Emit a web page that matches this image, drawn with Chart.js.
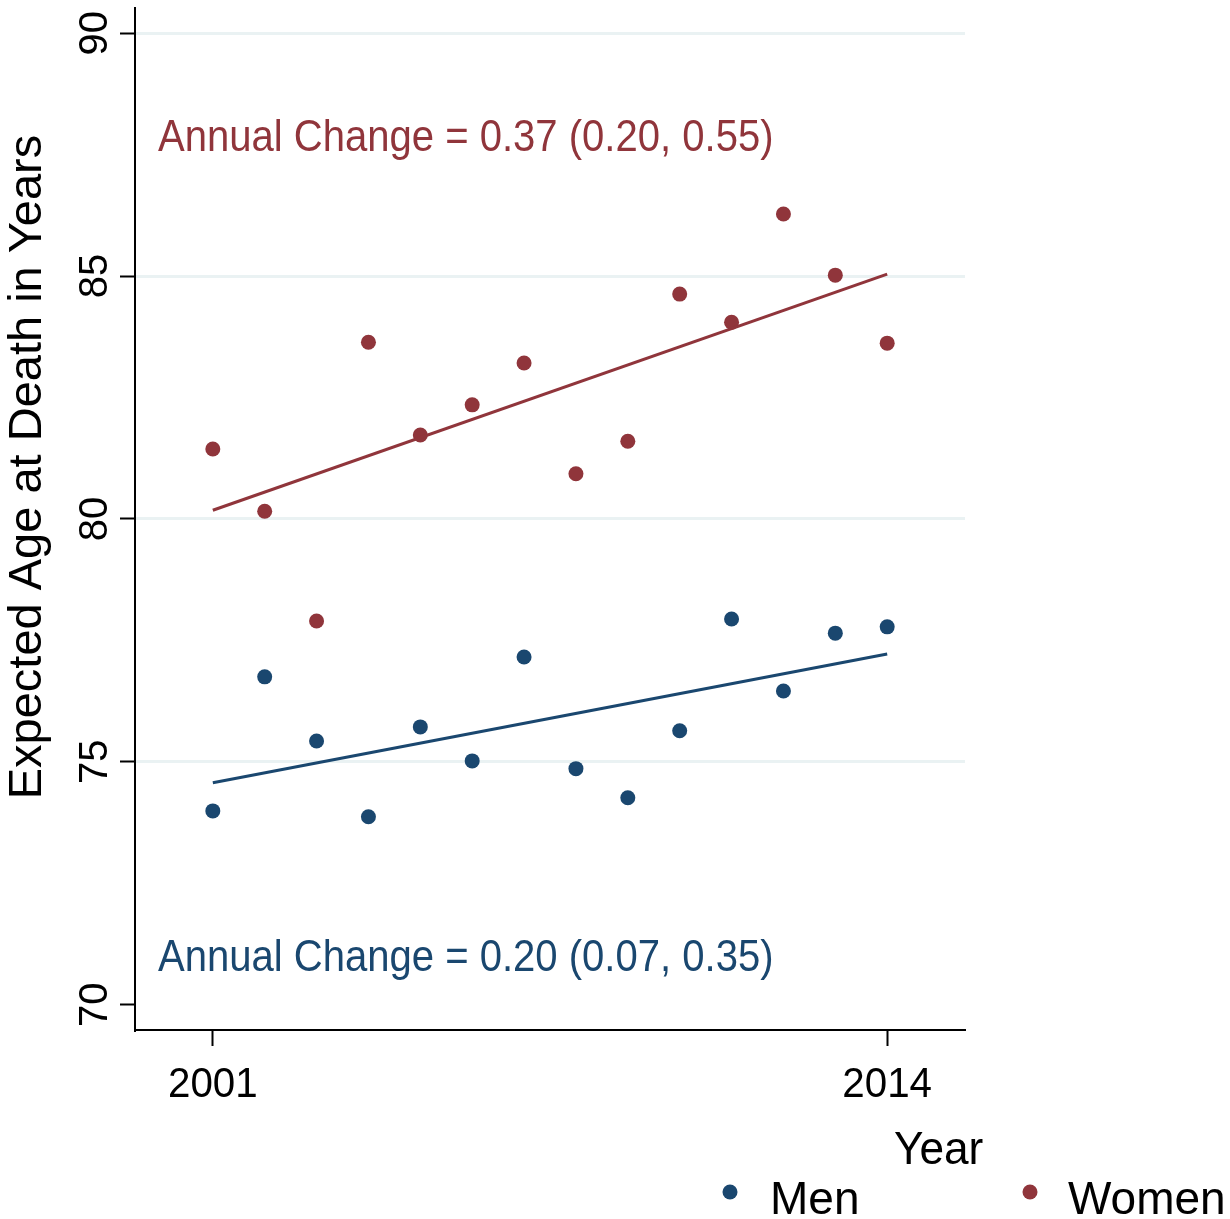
<!DOCTYPE html>
<html lang="en">
<head>
    <meta charset="UTF-8">
    <title>Expected Age at Death</title>
    <script src="https://cdn.jsdelivr.net/npm/chart.js"></script>
    <style>
        body { margin: 0; background: #ffffff; }
        #wrap { width: 1230px; height: 1219px; }
    </style>
</head>
<body>
<div id="wrap">
    <canvas id="ageChart" width="1230" height="1219"></canvas>
</div>
<script>
// data
const years = [2001, 2002, 2003, 2004, 2005, 2006, 2007, 2008, 2009, 2010, 2011, 2012, 2013, 2014];
const menAge = [73.99, 76.75, 75.43, 73.87, 75.72, 75.02, 77.16, 74.86, 74.26, 75.64, 77.94, 76.46, 77.65, 77.78];
const womenAge = [81.44, 80.16, 77.90, 83.64, 81.73, 82.35, 83.21, 80.93, 81.60, 84.63, 84.05, 86.28, 85.02, 83.62];
const fitYears = [2001, 2014];
const menFit = [74.57, 77.22];
const womenFit = [80.18, 85.04];
const yTicks = [70, 75, 80, 85, 90];
const xTicks = [2001, 2014];
const seriesNames = ['Men', 'Women'];
const menNote = 'Annual Change = 0.20 (0.07, 0.35)';
const womenNote = 'Annual Change = 0.37 (0.20, 0.55)';
const yTitle = 'Expected Age at Death in Years';
const xTitle = 'Year';

const NAVY = '#1a476f';
const MAROON = '#90353b';
const GRID = '#eaf2f3';
const FONT = '"Liberation Sans", Arial, Helvetica, sans-serif';

function pts(xs, ys) {
    return xs.map((x, i) => ({ x: x, y: ys[i] }));
}

// text with an optional horizontal squeeze
function putText(ctx, text, x, y, size, color, align, sx, rot) {
    ctx.save();
    ctx.translate(x, y);
    ctx.scale(sx, 1);
    if (rot) ctx.rotate(rot);
    ctx.font = size + 'px ' + FONT;
    ctx.fillStyle = color;
    ctx.textAlign = align;
    ctx.textBaseline = 'alphabetic';
    ctx.fillText(text, 0, 0);
    ctx.restore();
}

const textPlugin = {
    id: 'stataText',
    afterDraw(chart) {
        const ctx = chart.ctx;
        const xs = chart.scales.x;
        const ys = chart.scales.y;
        const area = chart.chartArea;

        // y tick labels, rotated
        yTicks.forEach(v => {
            putText(ctx, String(v), 107, ys.getPixelForValue(v), 40, '#000', 'center', 1, -Math.PI / 2);
        });
        // x tick labels
        xTicks.forEach(v => {
            putText(ctx, String(v), xs.getPixelForValue(v), 1097, 42, '#000', 'center', 0.96, 0);
        });

        // annual change notes
        putText(ctx, womenNote, area.left + 23, 151, 44, MAROON, 'left', 0.91, 0);
        putText(ctx, menNote, area.left + 23, 971, 44, NAVY, 'left', 0.91, 0);

        // axis titles
        putText(ctx, yTitle, 41, 467, 47, '#000', 'center', 1, -Math.PI / 2);
        putText(ctx, xTitle, 894, 1164, 47, '#000', 'left', 0.94, 0);

        // legend
        [[730, NAVY, seriesNames[0], 770], [1030, MAROON, seriesNames[1], 1068]].forEach(item => {
            ctx.save();
            ctx.fillStyle = item[1];
            ctx.beginPath();
            ctx.arc(item[0], 1192, 7.5, 0, Math.PI * 2);
            ctx.fill();
            ctx.restore();
            putText(ctx, item[2], item[3], 1214, 46, '#000', 'left', 1, 0);
        });
    }
};

const ctx = document.getElementById('ageChart').getContext('2d');
new Chart(ctx, {
    type: 'scatter',
    data: {
        datasets: [
            {
                label: 'Men fit',
                type: 'line',
                data: pts(fitYears, menFit),
                borderColor: NAVY,
                borderWidth: 3,
                pointRadius: 0,
                fill: false
            },
            {
                label: 'Women fit',
                type: 'line',
                data: pts(fitYears, womenFit),
                borderColor: MAROON,
                borderWidth: 3,
                pointRadius: 0,
                fill: false
            },
            {
                label: seriesNames[0],
                data: pts(years, menAge),
                backgroundColor: NAVY,
                borderWidth: 0,
                pointRadius: 7.5
            },
            {
                label: seriesNames[1],
                data: pts(years, womenAge),
                backgroundColor: MAROON,
                borderWidth: 0,
                pointRadius: 7.5
            }
        ]
    },
    options: {
        responsive: false,
        animation: false,
        layout: {
            padding: { left: 120, right: 265, top: 7, bottom: 173 }
        },
        scales: {
            x: {
                type: 'linear',
                min: 1999.5,
                max: 2015.5,
                afterBuildTicks: axis => { axis.ticks = xTicks.map(v => ({ value: v })); },
                ticks: { display: false },
                grid: {
                    drawOnChartArea: false,
                    drawTicks: true,
                    tickLength: 16,
                    tickWidth: 2,
                    tickColor: '#000'
                },
                border: { display: true, color: '#000', width: 2 }
            },
            y: {
                min: 69.48,
                max: 90.53,
                afterBuildTicks: axis => { axis.ticks = yTicks.map(v => ({ value: v })); },
                ticks: { display: false },
                grid: {
                    color: c => (c.tick && c.tick.value === 70) ? 'rgba(0,0,0,0)' : GRID,
                    lineWidth: 3,
                    drawTicks: true,
                    tickLength: 15,
                    tickWidth: 2,
                    tickColor: '#000'
                },
                border: { display: true, color: '#000', width: 2 }
            }
        },
        plugins: {
            legend: { display: false },
            tooltip: { enabled: false },
            title: { display: false }
        }
    },
    plugins: [textPlugin]
});
</script>
</body>
</html>
